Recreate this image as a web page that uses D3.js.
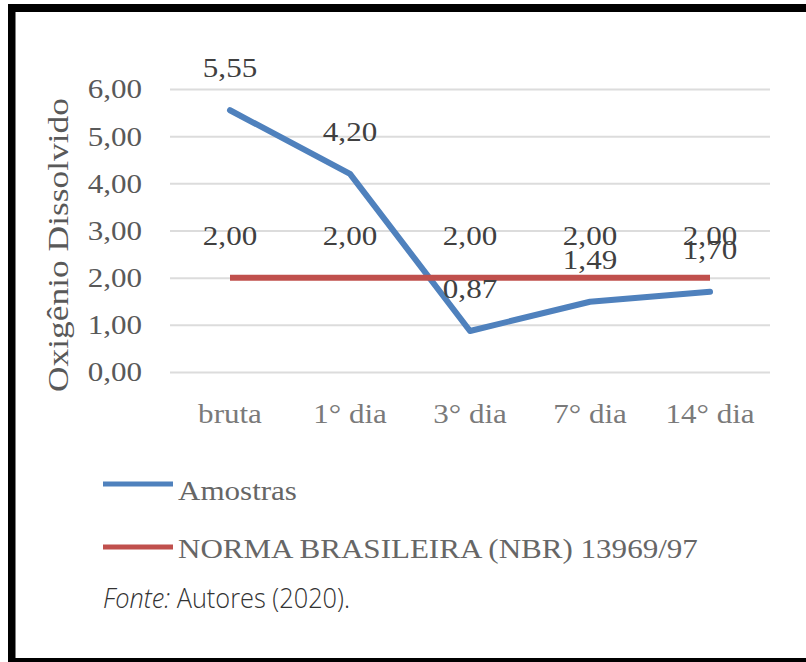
<!DOCTYPE html>
<html>
<head>
<meta charset="utf-8">
<script src="https://cdn.jsdelivr.net/npm/d3@7"></script>
<style>
  html, body { margin: 0; padding: 0; background: #ffffff; }
  svg { display: block; }
</style>
</head>
<body>
<script>
const categories = ["bruta", "1° dia", "3° dia", "7° dia", "14° dia"];
const amostras = [5.55, 4.20, 0.87, 1.49, 1.70];
const norma = [2.00, 2.00, 2.00, 2.00, 2.00];
const yTicks = [0, 1, 2, 3, 4, 5, 6];
const seriesNames = ["Amostras", "NORMA BRASILEIRA (NBR) 13969/97"];
const yTitle = "Oxigênio Dissolvido";
const sourceLabel = "Fonte:";
const sourceText = " Autores (2020).";

const W = 806, H = 662;
const serif = "'Liberation Serif', 'Times New Roman', serif";
const SX = 1.15;
const fmt = v => d3.format(".2f")(v).replace(".", ",");

const svg = d3.select("body").append("svg").attr("width", W).attr("height", H);

// frame
svg.append("rect").attr("x", 8).attr("y", 4).attr("width", W - 8).attr("height", 8).attr("fill", "#000");
svg.append("rect").attr("x", 8).attr("y", 4).attr("width", 7.5).attr("height", H - 4).attr("fill", "#000");
svg.append("rect").attr("x", 8).attr("y", 658).attr("width", W - 8).attr("height", 4).attr("fill", "#000");

const x = d3.scalePoint().domain(categories).range([170, 770]).padding(0.5);
const y = d3.scaleLinear().domain([0, 6]).range([372, 89]);

// gridlines + y tick labels
const yAxis = svg.append("g")
  .attr("transform", "translate(170,0)")
  .call(d3.axisLeft(y).tickValues(yTicks).tickSize(-600).tickFormat(fmt));
yAxis.select(".domain").remove();
yAxis.selectAll(".tick line").attr("stroke", "#dcdcdc").attr("stroke-width", 2);
yAxis.selectAll(".tick text")
  .attr("x", null).attr("dy", "0.33em")
  .attr("transform", "translate(-28,0) scale(" + SX + ",1)")
  .attr("font-family", serif).attr("font-size", 27)
  .attr("fill", "#595959").attr("text-anchor", "end");

// category labels
svg.append("g").selectAll("text").data(categories).join("text")
  .attr("transform", d => "translate(" + x(d) + ",423) scale(" + SX + ",1)")
  .attr("text-anchor", "middle")
  .attr("font-family", serif).attr("font-size", 27)
  .attr("fill", "#7a7a7a")
  .text(d => d);

// y title
svg.append("text")
  .attr("transform", "translate(68,245) rotate(-90)")
  .attr("text-anchor", "middle")
  .attr("font-family", serif).attr("font-size", 29)
  .attr("textLength", 294).attr("lengthAdjust", "spacingAndGlyphs")
  .attr("fill", "#595959")
  .text(yTitle);

const line = d3.line().x((d, i) => x(categories[i])).y(d => y(d));

svg.append("path").datum(amostras)
  .attr("d", line).attr("fill", "none")
  .attr("stroke", "#4f81bd").attr("stroke-width", 6)
  .attr("stroke-linejoin", "round").attr("stroke-linecap", "round");

svg.append("path").datum(norma)
  .attr("d", line).attr("fill", "none")
  .attr("stroke", "#c0504d").attr("stroke-width", 6)
  .attr("stroke-linejoin", "round");

// data labels
[amostras, norma].forEach(series => {
  svg.append("g").selectAll("text").data(series).join("text")
    .attr("transform", (d, i) => "translate(" + x(categories[i]) + "," + (y(d) - 33) + ") scale(" + SX + ",1)")
    .attr("text-anchor", "middle")
    .attr("font-family", serif).attr("font-size", 27)
    .attr("fill", "#404040")
    .text(d => fmt(d));
});

// legend
const legendColors = ["#4f81bd", "#c0504d"];
const legendY = [484, 547];
const legendBase = [500, 558];
const lg = svg.append("g");
seriesNames.forEach((name, i) => {
  lg.append("line")
    .attr("x1", 103).attr("x2", 173)
    .attr("y1", legendY[i]).attr("y2", legendY[i])
    .attr("stroke", legendColors[i]).attr("stroke-width", 5);
  lg.append("text")
    .attr("transform", "translate(178," + legendBase[i] + ") scale(" + SX + ",1)")
    .attr("font-family", serif).attr("font-size", 27)
    .attr("fill", "#666666")
    .text(name);
});

// source
const src = svg.append("text")
  .attr("x", 103).attr("y", 608)
  .attr("font-family", "'Open Sans', sans-serif").attr("font-size", 27)
  .attr("font-weight", 300)
  .attr("fill", "#333333")
  .attr("textLength", 247).attr("lengthAdjust", "spacingAndGlyphs");
src.append("tspan").attr("font-style", "italic").text(sourceLabel);
src.append("tspan").text(sourceText);
</script>
</body>
</html>
